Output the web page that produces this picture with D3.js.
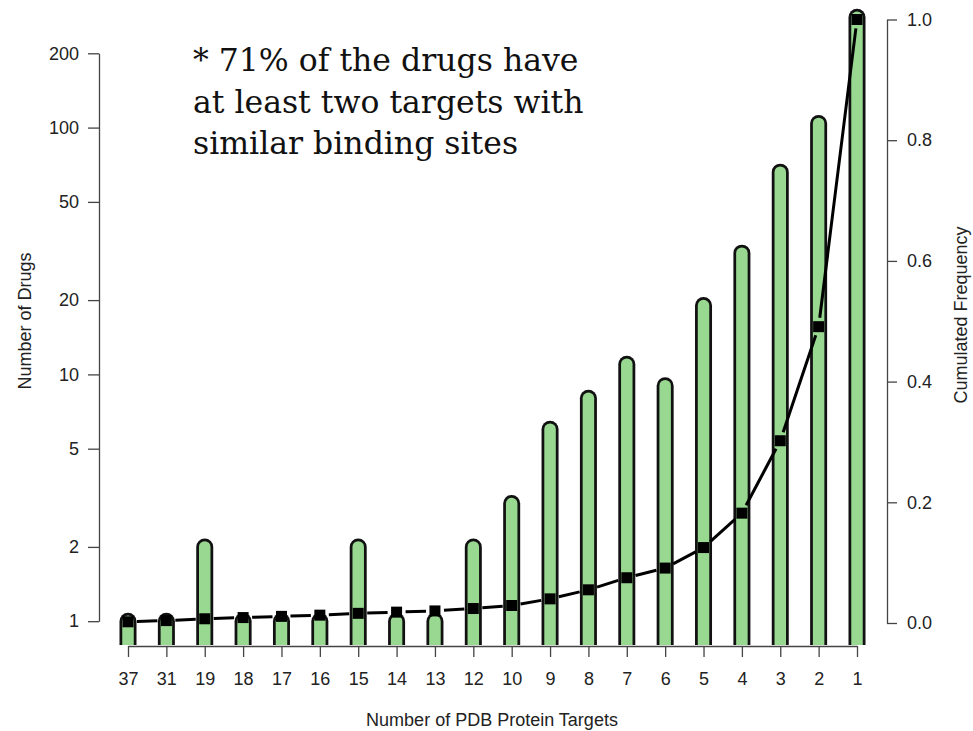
<!DOCTYPE html>
<html>
<head>
<meta charset="utf-8">
<script src="https://cdn.jsdelivr.net/npm/d3@7"></script>
<style>
  html, body { margin: 0; padding: 0; background: #fff; }
  svg { display: block; }
</style>
</head>
<body>
<svg id="chart" width="973" height="731"></svg>
<script>
// Number of PDB protein targets per drug (x categories, ordered as drawn)
const targetCounts = ["37", "31", "19", "18", "17", "16", "15", "14", "13", "12",
                      "10", "9", "8", "7", "6", "5", "4", "3", "2", "1"];
// Number of drugs with that many targets (log scale)
const drugCounts = [1, 1, 2, 1, 1, 1, 2, 1, 1, 2,
                    3, 6, 8, 11, 9, 19, 31, 66, 104, 280];
// Cumulated frequency of drugs, accumulated from the left
const cumulatedFrequency = [0.002, 0.004, 0.007, 0.009, 0.011, 0.013, 0.016, 0.018, 0.020, 0.024,
                            0.029, 0.040, 0.055, 0.075, 0.091, 0.125, 0.182, 0.302, 0.491, 1.000];
// Tick values for both vertical axes
const leftTicks = [1, 2, 5, 10, 20, 50, 100, 200];
const rightTicks = [0, 0.2, 0.4, 0.6, 0.8, 1.0];
// Note text
const noteLines = ["* 71% of the drugs have", "at least two targets with", "similar binding sites"];

const svg = d3.select("#chart");
const plotBottom = 645;

const x = d3.scalePoint().domain(targetCounts).range([128, 857]);
const yLeft = d3.scaleLog().domain([1, 200]).range([621.2, 53.3]);
const yRight = d3.scaleLinear().domain([0, 1]).range([623, 19.5]);

const sans = "'Liberation Sans', Arial, Helvetica, sans-serif";
const ink = "#222";

// clip so bar bottoms stop flat on the plot edge
svg.append("defs").append("clipPath").attr("id", "plotClip")
  .append("rect").attr("x", 0).attr("y", 0).attr("width", 973).attr("height", plotBottom);

const data = targetCounts.map((t, i) => ({ t, n: drugCounts[i], c: cumulatedFrequency[i] }));

// bars: thick round-capped strokes, black outline under green fill
const bars = svg.append("g").attr("clip-path", "url(#plotClip)");
bars.selectAll("line.outline").data(data).join("line")
  .attr("class", "outline")
  .attr("x1", d => x(d.t)).attr("x2", d => x(d.t))
  .attr("y1", d => yLeft(d.n)).attr("y2", plotBottom + 20)
  .attr("stroke", "#111").attr("stroke-width", 17).attr("stroke-linecap", "round");
bars.selectAll("line.fill").data(data).join("line")
  .attr("class", "fill")
  .attr("x1", d => x(d.t)).attr("x2", d => x(d.t))
  .attr("y1", d => yLeft(d.n)).attr("y2", plotBottom + 20)
  .attr("stroke", "#98d891").attr("stroke-width", 11.5).attr("stroke-linecap", "round");

// cumulated frequency: segments with gaps around the points, then square markers
const gap = 9;
const segs = d3.pairs(data).map(([a, b]) => {
  const x1 = x(a.t), y1 = yRight(a.c), x2 = x(b.t), y2 = yRight(b.c);
  const len = Math.hypot(x2 - x1, y2 - y1);
  const ux = (x2 - x1) / len, uy = (y2 - y1) / len;
  return { x1: x1 + ux * gap, y1: y1 + uy * gap, x2: x2 - ux * gap, y2: y2 - uy * gap, ok: len > 2 * gap };
}).filter(s => s.ok);
svg.append("g").selectAll("line").data(segs).join("line")
  .attr("x1", d => d.x1).attr("y1", d => d.y1)
  .attr("x2", d => d.x2).attr("y2", d => d.y2)
  .attr("stroke", "#000").attr("stroke-width", 3);
const ms = 11;
svg.append("g").selectAll("rect").data(data).join("rect")
  .attr("x", d => x(d.t) - ms / 2).attr("y", d => yRight(d.c) - ms / 2)
  .attr("width", ms).attr("height", ms).attr("fill", "#000");

function styleAxis(g) {
  g.selectAll("path.domain").attr("stroke", "#444").attr("stroke-width", 1.3);
  g.selectAll(".tick line").attr("stroke", "#444").attr("stroke-width", 1.3);
  g.selectAll(".tick text").attr("fill", ink).style("font-family", sans).style("font-size", "18px");
}

// left axis: number of drugs
svg.append("g").attr("transform", "translate(99,0)")
  .call(d3.axisLeft(yLeft).tickValues(leftTicks).tickFormat(d3.format("d"))
    .tickSize(11).tickSizeOuter(0).tickPadding(9))
  .call(styleAxis);

// right axis: cumulated frequency
svg.append("g").attr("transform", "translate(887,0)")
  .call(d3.axisRight(yRight).tickValues(rightTicks).tickFormat(d3.format(".1f"))
    .tickSize(10).tickSizeOuter(0).tickPadding(10))
  .call(styleAxis);

// bottom axis: number of targets
svg.append("g").attr("transform", `translate(0,${plotBottom + 1})`)
  .call(d3.axisBottom(x).tickSize(11).tickSizeOuter(0).tickPadding(15))
  .call(styleAxis);

// axis titles
svg.append("text").attr("x", 492).attr("y", 726).attr("text-anchor", "middle")
  .style("font-family", sans).style("font-size", "18px").attr("fill", ink)
  .text("Number of PDB Protein Targets");
svg.append("text").attr("transform", "translate(31,321) rotate(-90)").attr("text-anchor", "middle")
  .style("font-family", sans).style("font-size", "18px").attr("fill", ink)
  .text("Number of Drugs");
svg.append("text").attr("transform", "translate(967,315) rotate(-90)").attr("text-anchor", "middle")
  .style("font-family", sans).style("font-size", "18px").attr("fill", ink)
  .text("Cumulated Frequency");

// note
svg.append("g").selectAll("text").data(noteLines).join("text")
  .attr("x", 193).attr("y", (d, i) => 71 + i * 41.5)
  .style("font-family", "'DejaVu Serif', Georgia, serif").style("font-size", "31.5px")
  .attr("fill", "#111")
  .text(d => d);
</script>
</body>
</html>
